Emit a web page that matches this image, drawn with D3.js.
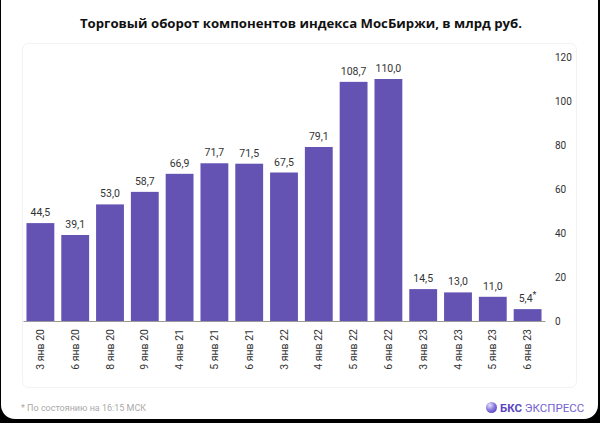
<!DOCTYPE html>
<html>
<head>
<meta charset="utf-8">
<script src="https://cdn.jsdelivr.net/npm/d3@7"></script>
<style>
  html, body { margin: 0; padding: 0; background: #000; }
  svg { display: block; }
</style>
</head>
<body>
<div id="chart"></div>
<script>
const categories = ["3 янв 20", "6 янв 20", "8 янв 20", "9 янв 20", "4 янв 21", "5 янв 21", "6 янв 21",
    "3 янв 22", "4 янв 22", "5 янв 22", "6 янв 22", "3 янв 23", "4 янв 23", "5 янв 23", "6 янв 23"];
const values = [44.5, 39.1, 53.0, 58.7, 66.9, 71.7, 71.5, 67.5, 79.1, 108.7, 110.0, 14.5, 13.0, 11.0, 5.4];
const yTicks = [0, 20, 40, 60, 80, 100, 120];
const starred = ["6 янв 23"];

const width = 600;
const height = 423;
const font = "Roboto, 'Open Sans', sans-serif";

const svg = d3.select("#chart")
    .append("svg")
    .attr("width", width)
    .attr("height", height);

// outer white card
svg.append("rect")
    .attr("x", 1).attr("y", -14)
    .attr("width", 597).attr("height", 433)
    .attr("rx", 14)
    .attr("fill", "#fff");

// inner card
svg.append("rect")
    .attr("x", 22.5).attr("y", 43.5)
    .attr("width", 554).attr("height", 344)
    .attr("rx", 6)
    .attr("fill", "#fff")
    .attr("stroke", "#f2f2f2");

svg.append("text")
    .attr("x", 301)
    .attr("y", 28)
    .attr("text-anchor", "middle")
    .attr("font-family", "'Open Sans', sans-serif")
    .attr("font-weight", "bold")
    .attr("font-size", "13.2px")
    .attr("fill", "#111")
    .text("Торговый оборот компонентов индекса МосБиржи, в млрд руб.");

const x = d3.scaleBand()
    .domain(categories)
    .range([23, 545])
    .paddingInner(0.2)
    .paddingOuter(0.1);

const y = d3.scaleLinear()
    .domain([0, 120])
    .range([321, 57]);

const fmt = d => d3.format(".1f")(d).replace(".", ",");

svg.selectAll(".bar")
    .data(values)
    .join("rect")
    .attr("class", "bar")
    .attr("x", (d, i) => x(categories[i]))
    .attr("y", d => y(d))
    .attr("width", x.bandwidth())
    .attr("height", d => y(0) - y(d))
    .attr("fill", "#6553b4");

const labels = svg.selectAll(".val")
    .data(values)
    .join("text")
    .attr("class", "val")
    .attr("x", (d, i) => x(categories[i]) + x.bandwidth() / 2)
    .attr("y", d => y(d) - 7)
    .attr("text-anchor", "middle")
    .attr("font-family", font)
    .attr("font-size", "10.5px")
    .attr("fill", "#333")
    .text(d => fmt(d));

labels.filter((d, i) => starred.includes(categories[i]))
    .append("tspan")
    .attr("dy", "-4")
    .attr("font-size", "9px")
    .text("*");

// baseline + x labels
const xAxis = svg.append("g")
    .attr("transform", `translate(0,${y(0)})`)
    .call(d3.axisBottom(x).tickSize(0).tickPadding(0));
xAxis.select(".domain").attr("stroke", "#999").attr("stroke-width", 1.2);
xAxis.selectAll("text")
    .attr("font-family", font)
    .attr("font-size", "10.5px")
    .attr("fill", "#333")
    .attr("transform", "rotate(-90)")
    .attr("text-anchor", "end")
    .attr("x", -8)
    .attr("y", 0)
    .attr("dy", "0.35em");

// y axis on the right
const yAxis = svg.append("g")
    .attr("transform", "translate(555,0)")
    .call(d3.axisRight(y).tickValues(yTicks).tickSize(0).tickPadding(0));
yAxis.select(".domain").remove();
yAxis.selectAll("text")
    .attr("font-family", font)
    .attr("font-size", "10px")
    .attr("fill", "#333");

// footer
svg.append("text")
    .attr("x", 21)
    .attr("y", 411)
    .attr("font-family", font)
    .attr("font-size", "9px")
    .attr("fill", "#aaa")
    .text("*  По состоянию на 16:15 МСК");

const grad = svg.append("defs").append("radialGradient")
    .attr("id", "ball")
    .attr("cx", "35%").attr("cy", "30%").attr("r", "75%");
grad.append("stop").attr("offset", "0%").attr("stop-color", "#e6e0ff");
grad.append("stop").attr("offset", "55%").attr("stop-color", "#8f7de0");
grad.append("stop").attr("offset", "100%").attr("stop-color", "#5b47c4");

svg.append("circle")
    .attr("cx", 491.5).attr("cy", 407.5).attr("r", 5.5)
    .attr("fill", "url(#ball)");

const logo = svg.append("text")
    .attr("x", 500)
    .attr("y", 411.5)
    .attr("font-family", font)
    .attr("font-size", "11.5px");
logo.append("tspan").attr("font-weight", "bold").attr("fill", "#5a46c2").text("БКС");
logo.append("tspan").attr("fill", "#7462d0").text(" ЭКСПРЕСС");
</script>
</body>
</html>
